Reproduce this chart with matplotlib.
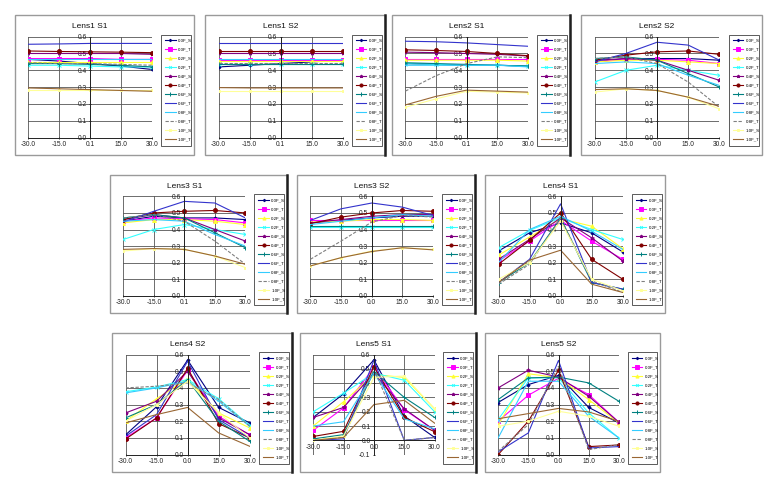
import numpy as np
import matplotlib
matplotlib.use('Agg')
import matplotlib.pyplot as plt
from matplotlib.patches import Rectangle
from matplotlib.lines import Line2D

plt.rcParams['font.family'] = ['Liberation Sans', 'DejaVu Sans']

# series names, same for every panel
series = ['0.0F_S', '0.0F_T', '0.2F_S', '0.2F_T', '0.4F_S', '0.4F_T',
          '0.6F_S', '0.6F_T', '0.8F_S', '0.8F_T', '1.0F_S', '1.0F_T']

xlabels_a = ['-30.0', '-15.0', '0.1', '15.0', '30.0']
xlabels_b = ['-30.0', '-15.0', '0.0', '15.0', '30.0']

# one row per series, columns are -30,-15,0,15,30
lens1_s1 = [
    [0.465, 0.455, 0.44, 0.425, 0.405],
    [0.47, 0.47, 0.47, 0.465, 0.465],
    [0.45, 0.45, 0.45, 0.45, 0.45],
    [0.43, 0.43, 0.425, 0.42, 0.42],
    [0.50, 0.50, 0.50, 0.50, 0.495],
    [0.515, 0.512, 0.51, 0.508, 0.505],
    [0.44, 0.44, 0.435, 0.43, 0.42],
    [0.555, 0.557, 0.56, 0.56, 0.56],
    [0.47, 0.47, 0.47, 0.47, 0.47],
    [0.445, 0.44, 0.44, 0.435, 0.43],
    [0.28, 0.28, 0.28, 0.28, 0.28],
    [0.295, 0.29, 0.285, 0.28, 0.275],
]
lens1_s2 = [
    [0.42, 0.43, 0.44, 0.45, 0.46],
    [0.46, 0.46, 0.46, 0.46, 0.46],
    [0.455, 0.455, 0.455, 0.455, 0.455],
    [0.44, 0.44, 0.44, 0.44, 0.44],
    [0.505, 0.505, 0.505, 0.505, 0.505],
    [0.512, 0.512, 0.512, 0.512, 0.512],
    [0.435, 0.435, 0.435, 0.435, 0.435],
    [0.565, 0.565, 0.565, 0.565, 0.565],
    [0.465, 0.465, 0.465, 0.465, 0.465],
    [0.445, 0.445, 0.445, 0.445, 0.445],
    [0.276, 0.276, 0.276, 0.276, 0.276],
    [0.297, 0.295, 0.295, 0.295, 0.295],
]
lens2_s1 = [
    [0.44, 0.435, 0.43, 0.43, 0.425],
    [0.47, 0.47, 0.47, 0.47, 0.47],
    [0.46, 0.46, 0.46, 0.46, 0.455],
    [0.44, 0.435, 0.43, 0.43, 0.425],
    [0.508, 0.505, 0.50, 0.495, 0.485],
    [0.522, 0.518, 0.512, 0.50, 0.487],
    [0.445, 0.44, 0.435, 0.43, 0.425],
    [0.573, 0.57, 0.563, 0.553, 0.543],
    [0.43, 0.43, 0.43, 0.43, 0.42],
    [0.276, 0.368, 0.44, 0.48, 0.475],
    [0.18, 0.23, 0.275, 0.27, 0.265],
    [0.194, 0.245, 0.282, 0.276, 0.27],
]
lens2_s2 = [
    [0.45, 0.47, 0.47, 0.47, 0.46],
    [0.45, 0.465, 0.465, 0.46, 0.44],
    [0.45, 0.46, 0.46, 0.45, 0.44],
    [0.33, 0.40, 0.43, 0.40, 0.37],
    [0.46, 0.47, 0.46, 0.40, 0.34],
    [0.46, 0.49, 0.51, 0.515, 0.495],
    [0.47, 0.48, 0.46, 0.38, 0.30],
    [0.45, 0.50, 0.567, 0.55, 0.46],
    [0.44, 0.45, 0.44, 0.37, 0.31],
    [0.47, 0.48, 0.44, 0.33, 0.18],
    [0.27, 0.29, 0.28, 0.24, 0.17],
    [0.285, 0.29, 0.28, 0.24, 0.185],
]
lens3_s1 = [
    [0.45, 0.48, 0.47, 0.47, 0.46],
    [0.45, 0.47, 0.465, 0.46, 0.44],
    [0.44, 0.46, 0.46, 0.45, 0.43],
    [0.34, 0.40, 0.43, 0.40, 0.37],
    [0.46, 0.49, 0.47, 0.40, 0.33],
    [0.46, 0.50, 0.51, 0.515, 0.50],
    [0.47, 0.49, 0.47, 0.38, 0.29],
    [0.446, 0.51, 0.57, 0.56, 0.47],
    [0.45, 0.46, 0.45, 0.37, 0.30],
    [0.47, 0.49, 0.45, 0.33, 0.19],
    [0.27, 0.285, 0.28, 0.24, 0.17],
    [0.28, 0.285, 0.28, 0.24, 0.19],
]
lens3_s2 = [
    [0.44, 0.455, 0.47, 0.48, 0.48],
    [0.455, 0.455, 0.455, 0.455, 0.455],
    [0.445, 0.45, 0.46, 0.46, 0.455],
    [0.415, 0.415, 0.415, 0.415, 0.415],
    [0.44, 0.46, 0.48, 0.49, 0.49],
    [0.435, 0.475, 0.50, 0.515, 0.51],
    [0.42, 0.42, 0.42, 0.42, 0.42],
    [0.455, 0.525, 0.56, 0.535, 0.485],
    [0.43, 0.45, 0.47, 0.49, 0.48],
    [0.22, 0.33, 0.445, 0.485, 0.475],
    [0.18, 0.23, 0.27, 0.29, 0.28],
    [0.18, 0.23, 0.267, 0.29, 0.277],
]
lens4_s1 = [
    [0.27, 0.38, 0.44, 0.38, 0.265],
    [0.21, 0.33, 0.455, 0.33, 0.22],
    [0.245, 0.355, 0.465, 0.42, 0.285],
    [0.29, 0.395, 0.47, 0.40, 0.34],
    [0.22, 0.34, 0.47, 0.35, 0.21],
    [0.19, 0.335, 0.50, 0.22, 0.10],
    [0.08, 0.20, 0.47, 0.08, 0.04],
    [0.08, 0.22, 0.555, 0.08, 0.04],
    [0.20, 0.40, 0.48, 0.39, 0.28],
    [0.07, 0.19, 0.47, 0.09, 0.02],
    [0.10, 0.20, 0.45, 0.10, 0.03],
    [0.08, 0.215, 0.275, 0.07, 0.02],
]
lens4_s2 = [
    [0.118, 0.287, 0.567, 0.283, 0.19],
    [0.10, 0.22, 0.507, 0.23, 0.118],
    [0.20, 0.335, 0.455, 0.25, 0.16],
    [0.377, 0.405, 0.45, 0.335, 0.175],
    [0.25, 0.32, 0.50, 0.22, 0.12],
    [0.093, 0.22, 0.517, 0.186, 0.10],
    [0.22, 0.30, 0.45, 0.20, 0.08],
    [0.11, 0.24, 0.56, 0.21, 0.10],
    [0.37, 0.40, 0.44, 0.32, 0.17],
    [0.40, 0.41, 0.43, 0.33, 0.17],
    [0.20, 0.30, 0.44, 0.25, 0.10],
    [0.19, 0.24, 0.283, 0.13, 0.05],
]
lens5_s1 = [
    [0.16, 0.325, 0.563, 0.17, 0.02],
    [0.07, 0.227, 0.51, 0.215, 0.07],
    [0.10, 0.27, 0.46, 0.44, 0.22],
    [0.20, 0.33, 0.47, 0.42, 0.20],
    [0.16, 0.23, 0.47, 0.22, 0.07],
    [0.027, 0.063, 0.515, 0.16, 0.06],
    [0.01, 0.04, 0.48, 0.30, 0.16],
    [0.0, 0.01, 0.56, 0.0, 0.02],
    [0.10, 0.13, 0.47, 0.15, 0.08],
    [0.0, 0.02, 0.50, 0.0, 0.02],
    [0.0, 0.03, 0.44, 0.45, 0.22],
    [0.0, 0.02, 0.25, 0.28, 0.12],
]
lens5_s2 = [
    [0.3125, 0.42, 0.475, 0.283, 0.19],
    [0.20, 0.356, 0.458, 0.36, 0.194],
    [0.177, 0.485, 0.46, 0.33, 0.19],
    [0.21, 0.46, 0.46, 0.25, 0.10],
    [0.40, 0.506, 0.465, 0.35, 0.194],
    [0.0, 0.20, 0.506, 0.048, 0.058],
    [0.33, 0.46, 0.465, 0.43, 0.32],
    [0.017, 0.13, 0.565, 0.04, 0.048],
    [0.10, 0.44, 0.44, 0.23, 0.10],
    [0.02, 0.18, 0.53, 0.03, 0.06],
    [0.17, 0.20, 0.26, 0.23, 0.17],
    [0.215, 0.246, 0.277, 0.256, 0.20],
]

# excel-ish look for each series: colour, marker, marker size, dashes
styles = [
    ('#000080', 'D', 1.6, None),
    ('#FF00FF', 's', 2.8, None),
    ('#FFFF33', '^', 2.8, None),
    ('#33FFFF', 'x', 2.4, None),
    ('#800080', '*', 2.8, None),
    ('#800000', 'o', 2.8, None),
    ('#008080', '+', 2.8, None),
    ('#3333CC', '', 0, None),
    ('#33CCFF', '', 0, None),
    ('#808080', '', 0, (3, 1.5)),
    ('#FFFF99', 's', 2.0, None),
    ('#996633', '', 0, None),
]

W, H = 774.0, 483.0

# title, data, x labels, panel box in pixels (x0, y0, x1, y1), y min, dark right edge
panels = [
    ('Lens1 S1', lens1_s1, xlabels_a, (15, 15, 194, 155), 0.0, False),
    ('Lens1 S2', lens1_s2, xlabels_a, (205, 15, 385, 155), 0.0, True),
    ('Lens2 S1', lens2_s1, xlabels_a, (392, 15, 570, 155), 0.0, True),
    ('Lens2 S2', lens2_s2, xlabels_b, (581, 15, 762, 155), 0.0, False),
    ('Lens3 S1', lens3_s1, xlabels_a, (110, 175, 287, 313), 0.0, True),
    ('Lens3 S2', lens3_s2, xlabels_b, (297, 175, 475, 313), 0.0, True),
    ('Lens4 S1', lens4_s1, xlabels_b, (485, 175, 665, 313), 0.0, False),
    ('Lens4 S2', lens4_s2, xlabels_b, (112, 333, 292, 472), 0.0, True),
    ('Lens5 S1', lens5_s1, xlabels_b, (300, 333, 476, 472), -0.1, True),
    ('Lens5 S2', lens5_s2, xlabels_b, (485, 333, 660, 472), 0.0, False),
]


def fig_box(x0, y0, x1, y1):
    return [x0 / W, 1 - y1 / H, (x1 - x0) / W, (y1 - y0) / H]


def draw_panel(fig, title, data, xlabels, box, ymin, dark_right):
    x0, y0, x1, y1 = box
    w = x1 - x0
    h = y1 - y0
    # outer chart border
    fig.patches.append(Rectangle((x0 / W, 1 - y1 / H), w / W, h / H,
                                 transform=fig.transFigure, fill=False,
                                 edgecolor='#9a9a9a', lw=1.0))
    if dark_right:
        fig.add_artist(Line2D([x1 / W, x1 / W], [1 - y1 / H, 1 - y0 / H],
                              transform=fig.transFigure, color='#202020', lw=1.8))

    ax = fig.add_axes(fig_box(x0 + 0.075 * w, y0 + 0.155 * h,
                              x0 + 0.765 * w, y0 + 0.875 * h))
    xpos = np.arange(len(xlabels))
    for vals, name, (col, mk, ms, dash) in zip(data, series, styles):
        line, = ax.plot(xpos, vals, color=col, lw=0.8, marker=mk if mk else None,
                        ms=ms, mec=col, mfc=col, mew=0.7, label=name)
        if dash:
            line.set_dashes(dash)

    ax.set_xlim(0, len(xlabels) - 1)
    ax.set_ylim(ymin, 0.6)
    yt = np.round(np.arange(ymin, 0.601, 0.1), 1)
    ax.set_yticks(yt)
    ax.set_yticklabels(['%.1f' % v for v in yt])
    ax.set_xticks(xpos)
    ax.set_xticklabels(xlabels)
    ax.tick_params(labelsize=4.8, length=2, width=0.6, pad=1.5, colors='#222222')
    ax.grid(True, color='#555555', lw=0.6)
    ax.set_axisbelow(True)

    # y axis crosses in the middle category, x axis at zero
    ax.spines['left'].set_position(('data', 2))
    ax.spines['bottom'].set_position(('data', 0))
    ax.spines['top'].set_visible(False)
    ax.spines['right'].set_visible(False)
    for s in ('left', 'bottom'):
        ax.spines[s].set_color('#222222')
        ax.spines[s].set_linewidth(0.7)
    ax.tick_params(axis='y', direction='inout')
    ax.tick_params(axis='x', direction='inout')

    fig.text((x0 + 0.42 * w) / W, 1 - (y0 + 0.085 * h) / H, title,
             ha='center', va='center', fontsize=6, color='#111111')

    leg = ax.legend(loc='upper left',
                    bbox_to_anchor=((x0 + 0.815 * w) / W, 1 - (y0 + 0.14 * h) / H,
                                    0.17 * w / W, 0),
                    bbox_transform=fig.transFigure, mode='expand',
                    fontsize=3.2, frameon=True, fancybox=False,
                    edgecolor='#111111', borderaxespad=0, borderpad=0.9,
                    labelspacing=1.1, handlelength=2.4, handletextpad=0.5,
                    markerscale=0.8)
    leg.get_frame().set_linewidth(0.6)


fig = plt.figure(figsize=(W / 100, H / 100), dpi=100)
fig.patch.set_facecolor('white')
for p in panels:
    draw_panel(fig, *p)

fig.savefig('out.png', dpi=100)
